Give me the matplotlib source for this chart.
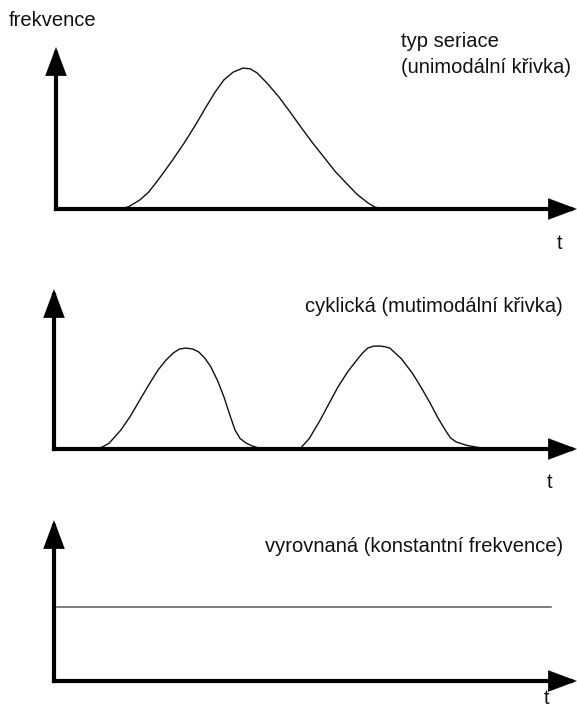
import matplotlib
matplotlib.use("Agg")
import matplotlib.pyplot as plt

# ---- data (t in % of axis length, frequency in % of axis height) ----
uni_t = [12.5, 14.0, 16.1, 17.8, 19.6, 22.0, 24.6, 26.8, 28.8, 30.5, 32.2, 34.0, 35.9,
         37.3, 38.6, 40.7, 42.8, 44.9, 47.0, 49.2, 51.4, 53.5, 55.7, 57.8, 59.9, 61.2, 62.8]
uni_f = [0.0, 1.5, 5.6, 10.5, 17.9, 28.5, 40.7, 52.0, 63.0, 72.0, 79.6, 84.5, 87.0,
         86.5, 84.0, 77.0, 69.1, 60.0, 50.6, 41.0, 32.1, 23.5, 16.0, 9.0, 3.7, 1.2, 0.0]

cyc_t = [8.5, 10.5, 12.8, 14.6, 16.4, 18.2, 19.9, 21.4, 22.8, 24.0, 25.2, 26.5, 27.7,
         28.9, 30.0, 31.3, 32.5, 33.6, 34.6, 35.6, 36.7, 37.8, 38.8, 40.3,
         47.0, 48.8, 50.9, 52.6, 54.3, 56.1, 57.9, 59.0, 60.0, 61.0, 62.1, 63.2, 64.2,
         66.4, 68.5, 70.2, 71.9, 73.4, 74.8, 75.8, 76.9, 79.0, 81.1, 82.4]
cyc_f = [0.0, 3.5, 11.9, 20.5, 30.6, 40.5, 49.4, 55.5, 60.0, 62.5, 63.1, 62.5, 60.6,
         56.5, 51.3, 42.5, 32.5, 21.5, 11.9, 6.5, 3.8, 2.0, 1.0, 0.0,
         0.0, 6.5, 18.1, 28.5, 38.8, 48.0, 55.6, 60.0, 63.1, 64.2, 64.4, 64.0, 63.1,
         56.5, 47.5, 38.5, 28.8, 19.5, 11.9, 7.0, 4.4, 2.2, 1.0, 0.0]

const_t = [0.6, 95.0]
const_f = [46.0, 46.0]

titles = ["typ seriace\n(unimodální křivka)",
          "cyklická (mutimodální křivka)",
          "vyrovnaná (konstantní frekvence)"]
ylabel = "frekvence"
xlabel = "t"

W, H = 577, 711
fig = plt.figure(figsize=(W / 100, H / 100), dpi=100)
plt.rcParams['font.family'] = ['Liberation Sans', 'DejaVu Sans']
FS = 14.5

def add_panel(x0, y0, x1, y1):
    # pixel coords (origin top-left) -> figure axes
    ax = fig.add_axes([x0 / W, 1 - y0 / H, (x1 - x0) / W, (y0 - y1) / H])
    ax.set_xlim(0, 100)
    ax.set_ylim(0, 100)
    ax.axis('off')
    ax.patch.set_visible(False)
    lw = 3.0
    ap = dict(arrowstyle='-|>,head_length=0.75,head_width=0.28', lw=lw, color='black',
              mutation_scale=20, shrinkA=0, shrinkB=0, joinstyle='miter', capstyle='projecting')
    ax.annotate('', xy=(1, 0), xytext=(0, 0), xycoords='axes fraction', arrowprops=ap)
    ax.annotate('', xy=(0, 1), xytext=(0, 0), xycoords='axes fraction', arrowprops=ap)
    return ax

ax1 = add_panel(56, 209, 577, 47)
ax1.plot(uni_t, uni_f, color='#111111', lw=1.0, solid_joinstyle='round')

ax2 = add_panel(54, 449, 577, 289)
ax2.plot(cyc_t, cyc_f, color='#111111', lw=1.0, solid_joinstyle='round')

ax3 = add_panel(54, 681, 577, 520)
ax3.plot(const_t, const_f, color='#666666', lw=1.2)

def ftext(x, y, s, **kw):
    fig.text(x / W, 1 - y / H, s, fontsize=FS, va='center', color='#111111', **kw)

ftext(9, 20, ylabel, ha='left')
fig.text(401 / W, 1 - 32 / H, titles[0], fontsize=FS, va='top', ha='left',
         color='#111111', linespacing=1.45)
ftext(305, 307, titles[1], ha='left')
ftext(265, 547, titles[2], ha='left')
ftext(560, 243, xlabel, ha='center')
ftext(550, 483, xlabel, ha='center')
ftext(547, 699, xlabel, ha='center')

fig.savefig('out.png', dpi=100, facecolor='white')
